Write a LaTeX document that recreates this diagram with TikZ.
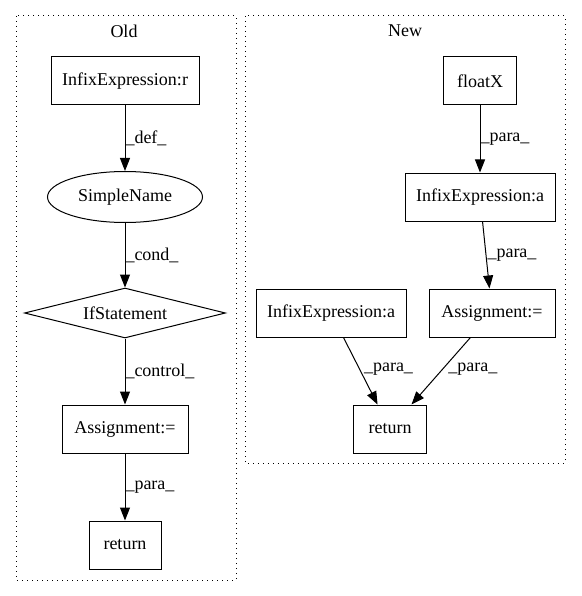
\documentclass[tikz,border=0pt]{standalone}
\usepackage{fontspec}
\setmainfont{Liberation Serif}
\usetikzlibrary{shapes.geometric,arrows.meta}
\begin{document}
\begin{tikzpicture}[x=1pt,y=-1pt,
  every node/.style={font=\fontsize{18}{20}\selectfont, inner sep=0pt},
  box/.style={draw, line width=1pt, minimum height=48pt},
  cluster/.style={draw, line width=1pt, dash pattern=on 1pt off 4pt},
  edge/.style={draw, line width=1pt, -{Triangle[length=13pt,width=10pt]}},
  elabel/.style={anchor=west, font=\fontsize{18}{20}\selectfont}]
\useasboundingbox (0,0) rectangle (581,596);
% clusters
\draw[cluster] (16,16) rectangle (236,580);
\draw[cluster] (245,16) rectangle (565,463);
\node (oldlabel) at (124,31) {Old};
\node (newlabel) at (405,31) {New};
% Old
\node[box, minimum width=148pt] (ir) at (125,81) {InfixExpression:r};
\node[draw, ellipse, line width=1pt, minimum width=155pt, minimum height=51pt] (sn) at (125,197) {SimpleName};
\node[draw, diamond, line width=1pt, minimum width=201pt, minimum height=50pt, aspect=4] (if) at (125,313) {IfStatement};
\node[box, minimum width=126pt] (oa) at (125,429) {Assignment:=};
\node[box, minimum width=72pt] (oret) at (125,545) {return};
\draw[edge] (ir) -- (sn) node[elabel, midway] {\_def\_};
\draw[edge] (sn) -- (if) node[elabel, midway] {\_cond\_};
\draw[edge] (if) -- (oa) node[elabel, midway] {\_control\_};
\draw[edge] (oa) -- (oret) node[elabel, midway] {\_para\_};
% New
\node[box, minimum width=73pt] (fx) at (480,81) {floatX};
\node[box, minimum width=150pt] (ia1) at (480,197) {InfixExpression:a};
\node[box, minimum width=150pt] (ia2) at (331,313) {InfixExpression:a};
\node[box, minimum width=126pt] (na) at (492,313) {Assignment:=};
\node[box, minimum width=73pt] (nret) at (390,429) {return};
\draw[edge] (fx) -- (ia1) node[elabel, midway] {\_para\_};
\draw[edge] (ia1) -- (na) node[elabel, midway, xshift=1pt] {\_para\_};
\draw[edge] (ia2) -- (nret) node[elabel, midway, xshift=3pt, yshift=2pt] {\_para\_};
\draw[edge] (na) -- (nret) node[elabel, midway, xshift=7pt, yshift=2pt] {\_para\_};
\end{tikzpicture}
\end{document}
